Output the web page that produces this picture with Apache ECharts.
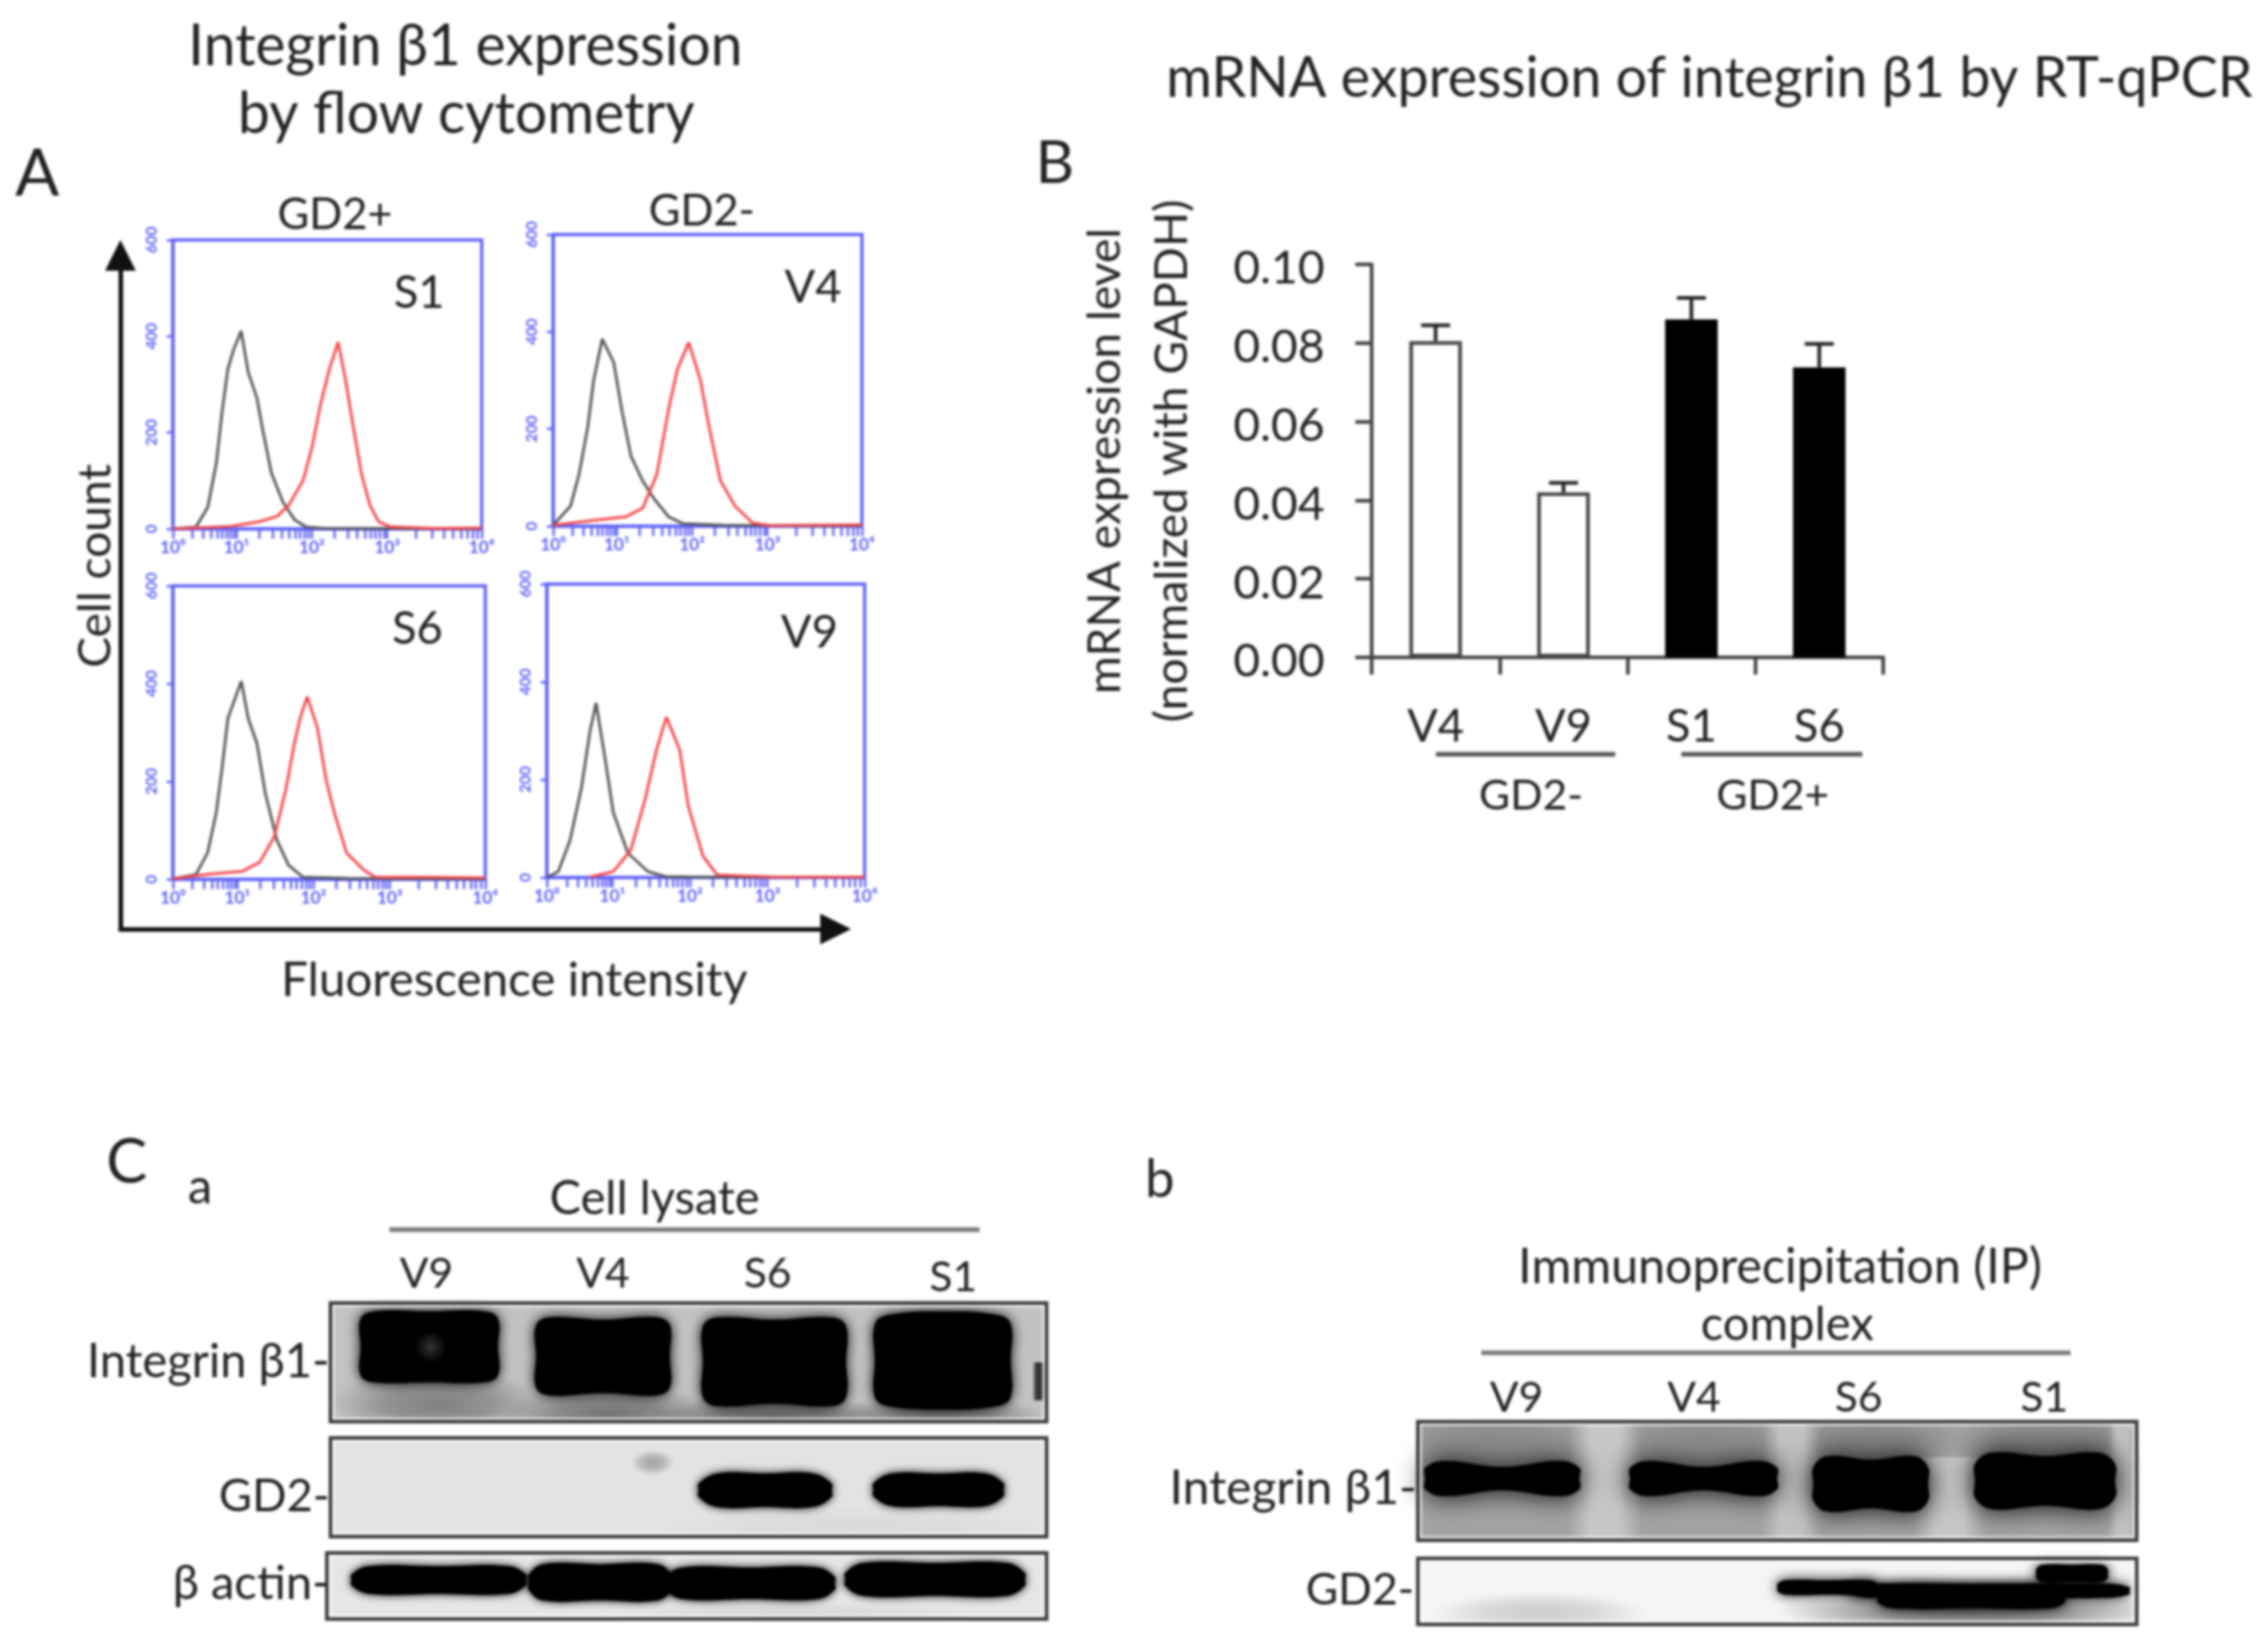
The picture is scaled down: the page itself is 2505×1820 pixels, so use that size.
<!DOCTYPE html>
<html><head><meta charset="utf-8">
<style>html,body{margin:0;padding:0;background:#fff}#c{width:2505px;height:1820px;filter:blur(1.5px)}</style>
<script src="https://cdn.jsdelivr.net/npm/echarts@6/dist/echarts.min.js"></script>
</head><body><div id="c"></div>
<script>
// ---------- Panel A: flow cytometry histograms ([channel, count]) ----------
const s1Control=[[0,0],[75,4],[113,45],[141,138],[159,242],[178,332],[197,373],[221,411],[244,325],[272,272],[291,205],[319,116],[356,56],[394,19],[431,4],[488,1],[1000,0]];
const s1Integrin=[[0,0],[188,5],[281,15],[338,26],[375,49],[422,101],[450,168],[478,258],[507,332],[535,388],[557,317],[582,220],[610,116],[638,49],[666,15],[704,4],[844,1],[1000,2]];
const v4Control=[[0,2],[56,41],[84,107],[112,204],[131,300],[159,385],[196,337],[224,233],[252,144],[290,93],[327,56],[374,19],[421,5],[551,2],[1000,1]];
const v4Integrin=[[0,2],[121,11],[234,19],[290,37],[336,107],[374,241],[402,322],[439,378],[477,300],[505,204],[542,93],[589,41],[645,7],[701,1],[1000,3]];
const s6Control=[[0,1],[74,10],[111,54],[139,137],[157,226],[176,329],[219,405],[241,329],[269,278],[296,175],[333,80],[370,29],[417,4],[556,2],[1000,1]];
const s6Integrin=[[0,1],[111,10],[222,16],[278,35],[324,86],[361,182],[389,278],[407,329],[430,373],[463,309],[491,201],[519,131],[556,54],[611,19],[648,4],[833,4],[1000,3]];
const v9Control=[[0,0],[36,12],[73,76],[109,184],[136,300],[155,357],[182,248],[209,133],[255,50],[318,12],[373,2],[455,1],[1000,0]];
const v9Integrin=[[136,1],[209,12],[264,56],[309,159],[345,261],[376,328],[418,261],[445,146],[491,44],[536,5],[718,1],[1000,1]];
const flowMajorChannels=[0,206,450,694,1000];
const flowTickLabels=['10⁰','10¹','10²','10³','10⁴'];
// ---------- Panel B: RT-qPCR ----------
const qpcrCategories=['V4','V9','S1','S6'];
const gd2NegativeValues=[0.0805,0.042,null,null];
const gd2PositiveValues=[null,null,0.086,0.0738];
const qpcrUpperError=[0.0845,0.0444,0.0915,0.0798];
// ---------- Panel C: blots [left%, right%, top%, bottom%, waist%, signal 0-1] ----------
const lysateIntegrinBg=[[0,100,0,100,0,.24],[0,30,55,115,0,.5],[24,54,68,120,0,.55],[46,78,76,120,0,.62],[70,100,76,120,0,.55],[98,99.8,50,82,0,.8]];
const lysateIntegrinBands=[[4.2,23.4,7,67,0,1],[28.7,47.4,12,78,2,1],[52,72,12,87,2,1],[76,95,10,87,-3,1],[6,22,24,50,0,.8]];
const lysateGd2Bg=[[0,100,0,100,0,.11],[46,100,70,115,0,.15],[42,48,12,38,0,.36]];
const lysateGd2Bands=[[51.4,70,36,70,0,1],[75.8,94,36,69,0,1]];
const lysateActinBg=[[0,100,0,100,0,.1],[40,90,75,115,0,.16]];
const lysateActinBands=[[3.4,27.7,20,62,0,1],[28,48,17,72,0,1],[47,70.6,22,70,0,1],[72,97,15,65,0,1]];
const ipIntegrinBg=[[0,100,0,100,0,.36],[-5,26,-10,42,0,.46],[26,54,-10,42,0,.46],[50,76,-10,42,0,.48],[74,102,-10,42,0,.48],[21,31,0,100,0,.22],[48,56,0,100,0,.24],[69,79,30,100,0,.22],[96,100,0,100,0,.24]];
const ipIntegrinBands=[[1,22.5,33,63,5,1],[29.5,50,33,63,5,1],[55,71,29,76,3,1],[77.5,97,26,74,3,1]];
const ipGd2Bg=[[0,100,0,100,0,.04],[2,32,50,115,0,.2],[50,104,45,115,0,.55]];
const ipGd2Bands=[[50,64,33,55,0,1],[60,99,38,60,0,1],[64,90,42,76,0,1],[86,96,10,36,0,1]];
const blotLaneLabels=['V9','V4','S6','S1'];
// ---------- Text ----------
const titleA=['Integrin β1 expression','by flow cytometry'];
const titleB='mRNA expression of integrin β1 by RT-qPCR';
const qpcrAxisName='mRNA expression level\n(normalized with GAPDH)';
const flowPanelNames=['S1','V4','S6','V9'];

const FONT='Lato, "Noto Sans", sans-serif';
const INK='#222';
const BLUE='#5d60f8';

function log10Ticks(){
  const out=[];
  for(let d=0;d<flowMajorChannels.length-1;d++){
    const a=flowMajorChannels[d],b=flowMajorChannels[d+1];
    for(let k=1;k<=9;k++) out.push(Math.round(a+(b-a)*Math.log10(k)));
  }
  out.push(1000);return out;
}
const grids=[],xAxes=[],yAxes=[],series=[],graphics=[];
function addGrid(g,x,y){grids.push(g);xAxes.push(Object.assign({gridIndex:grids.length-1},x));yAxes.push(Object.assign({gridIndex:grids.length-1},y));return grids.length-1;}

// outer arrows
const arrowAxis={type:'value',min:0,max:1,splitLine:{show:false},axisTick:{show:false},axisLabel:{show:false},
  axisLine:{show:true,symbol:['none','triangle'],symbolSize:[34,34],lineStyle:{color:'#111',width:5}}};
addGrid({left:133,top:282,width:790,height:744},arrowAxis,arrowAxis);

// flow panels
function flowPanel(box,control,integrin){
  const i=addGrid({left:box[0],top:box[1],width:box[2]-box[0],height:box[3]-box[1],show:true,borderColor:BLUE,borderWidth:3.5,backgroundColor:'#fff'},
   {type:'value',min:0,max:1000,splitLine:{show:false},axisLine:{show:true,onZero:false,lineStyle:{color:BLUE,width:3}},
    axisTick:{show:true,customValues:log10Ticks(),length:11,lineStyle:{color:BLUE,width:2.5}},
    axisLabel:{show:true,customValues:flowMajorChannels,formatter:v=>flowTickLabels[flowMajorChannels.indexOf(v)],color:BLUE,fontSize:19,fontWeight:'bold',margin:11,fontFamily:FONT,hideOverlap:false,showMinLabel:true,showMaxLabel:true}},
   {type:'value',min:0,max:600,interval:200,splitLine:{show:false},axisLine:{show:true,lineStyle:{color:BLUE,width:3.5}},
    axisTick:{show:true,length:7,lineStyle:{color:BLUE,width:2.5}},
    axisLabel:{show:true,rotate:90,color:BLUE,fontSize:17,fontWeight:'bold',margin:15,fontFamily:FONT,showMinLabel:true,showMaxLabel:true}});
  series.push({type:'line',xAxisIndex:i,yAxisIndex:i,data:control,symbol:'none',lineStyle:{color:'#555',width:3},silent:true,z:3});
  series.push({type:'line',xAxisIndex:i,yAxisIndex:i,data:integrin,symbol:'none',lineStyle:{color:'#f4474b',width:3},silent:true,z:4});
}
flowPanel([191,265,532,584],s1Control,s1Integrin);
flowPanel([611,259,952,581],v4Control,v4Integrin);
flowPanel([191,647,536,971],s6Control,s6Integrin);
flowPanel([604,645,955,969],v9Control,v9Integrin);

// bar chart
const qi=addGrid({left:1515,top:292,width:565,height:434},
  {type:'category',data:qpcrCategories,axisLine:{show:true,lineStyle:{color:'#444',width:4}},
   axisTick:{show:true,alignWithLabel:false,length:19,lineStyle:{color:'#444',width:4}},
   axisLabel:{color:INK,fontSize:50,margin:52,fontFamily:FONT}},
  {type:'value',min:0,max:0.1,interval:0.02,splitLine:{show:false},axisLine:{show:true,lineStyle:{color:'#444',width:4}},
   axisTick:{show:true,length:18,lineStyle:{color:'#444',width:4}},
   axisLabel:{color:INK,fontSize:51,margin:52,fontFamily:FONT,formatter:v=>v.toFixed(2),verticalAlign:'top',lineHeight:10},
   name:qpcrAxisName,nameLocation:'middle',nameRotate:90,nameGap:183,nameTextStyle:{color:INK,fontSize:51,lineHeight:74,fontFamily:FONT}});
const qBar={type:'bar',xAxisIndex:qi,yAxisIndex:qi,barWidth:58,barGap:'-100%',silent:true};
series.push(Object.assign({},qBar,{data:gd2NegativeValues,itemStyle:{color:'#fff',borderColor:'#444',borderWidth:4}}));
series.push(Object.assign({},qBar,{data:gd2PositiveValues,itemStyle:{color:'#000',borderColor:'#000',borderWidth:4}}));
const allValues=gd2NegativeValues.map((v,i)=>v==null?gd2PositiveValues[i]:v);
series.push({type:'custom',xAxisIndex:qi,yAxisIndex:qi,silent:true,z:1,
  data:qpcrCategories.map((c,i)=>[i,allValues[i],qpcrUpperError[i]]),
  renderItem(p,api){
    const lo=api.coord([api.value(0),api.value(1)]),hi=api.coord([api.value(0),api.value(2)]);
    const st={stroke:'#222',lineWidth:4,fill:'none'};
    return {type:'group',children:[
      {type:'line',shape:{x1:lo[0],y1:lo[1],x2:hi[0],y2:hi[1]},style:st},
      {type:'line',shape:{x1:hi[0]-16,y1:hi[1],x2:hi[0]+16,y2:hi[1]},style:st}]};
  }});

// blots
const gray=s=>{const g=Math.round(255*(1-s));return `rgb(${g},${g},${g})`;};
const grayA=(s,a)=>{const g=Math.round(255*(1-s));return `rgba(${g},${g},${g},${a})`;};
function softStrip(s){
  return new echarts.graphic.LinearGradient(0,0,1,0,[
    {offset:0,color:grayA(s,0)},{offset:.3,color:grayA(s,1)},{offset:.7,color:grayA(s,1)},{offset:1,color:grayA(s,0)}]);
}
function softBlob(s){
  return new echarts.graphic.RadialGradient(.5,.5,.5,[
    {offset:0,color:grayA(s,1)},{offset:.5,color:grayA(s,.7)},{offset:1,color:grayA(s,0)}]);
}
function blot(box,bg,bands,halo,cornerX,cornerY){
  const i=addGrid({left:box[0],top:box[1],width:box[2]-box[0],height:box[3]-box[1]},
    {type:'value',min:-10,max:110,show:false},{type:'value',min:-20,max:120,inverse:true,show:false});
  // axes are padded so panel percentages may spill past the frame; the frame is drawn at 0..100
  const base={type:'custom',xAxisIndex:i,yAxisIndex:i,silent:true,clip:false};
  grids[i]={left:box[0]-(box[2]-box[0])/10,top:box[1]-(box[3]-box[1])/5,width:(box[2]-box[0])*1.2,height:(box[3]-box[1])*1.4};
  series.push(Object.assign({},base,{z:5,data:bg,renderItem(p,api){
    const a=api.coord([api.value(0),api.value(2)]),b=api.coord([api.value(1),api.value(3)]);
    const w=b[0]-a[0],h=b[1]-a[1],s=api.value(5);
    const p0=api.coord([0,0]),p1=api.coord([100,100]);
    const clip={type:'rect',shape:{x:p0[0],y:p0[1],width:p1[0]-p0[0],height:p1[1]-p0[1]}};
    if(api.value(1)-api.value(0)===100&&api.value(3)-api.value(2)===100)
      return {type:'rect',shape:{x:a[0],y:a[1],width:w,height:h},style:{fill:gray(s)}};
    if(h>w) return {type:'rect',shape:{x:a[0],y:Math.max(a[1],p0[1]),width:w,height:Math.min(b[1],p1[1])-Math.max(a[1],p0[1])},style:{fill:softStrip(s)}};
    return {type:'group',clipPath:clip,children:[{type:'circle',x:a[0]+w/2,y:a[1]+h/2,scaleX:w/2,scaleY:h/2,shape:{cx:0,cy:0,r:1},style:{fill:softBlob(s)}}]};
  }}));
  series.push(Object.assign({},base,{z:6,data:bands,renderItem(p,api){
    const L=api.value(0),R=api.value(1),T=api.value(2),B=api.value(3),W=api.value(4),M=(L+R)/2,Y=(T+B)/2,r=(R-L)*cornerX,v=(B-T)*cornerY;
    const pts=[[L+r,T],[M,T+W],[R-r,T],[R,T+v],[R,Y],[R,B-v],[R-r,B],[M,B-W],[L+r,B],[L,B-v],[L,Y],[L,T+v]].map(q=>api.coord(q));
    const s=api.value(5);
    const fill=s<.99?new echarts.graphic.RadialGradient(.5,.5,.5,[{offset:0,color:gray(s)},{offset:1,color:'#000'}]):gray(s);
    return {type:'polygon',shape:{points:pts,smooth:.4},style:{fill,shadowBlur:s<.99?0:halo,shadowColor:'#000'}};
  }}));
  series.push(Object.assign({},base,{z:7,data:[[0]],renderItem(p,api){
    const a=api.coord([0,0]),b=api.coord([100,100]);
    return {type:'group',children:[
      {type:'rect',shape:{x:a[0]+3,y:a[1]+3,width:b[0]-a[0]-6,height:b[1]-a[1]-6},style:{fill:'none',stroke:'rgba(255,255,255,.7)',lineWidth:3}},
      {type:'rect',shape:{x:a[0],y:a[1],width:b[0]-a[0],height:b[1]-a[1]},style:{fill:'none',stroke:'#3c3c3c',lineWidth:4}}]};
  }}));
}
blot([365,1439,1156,1570],lysateIntegrinBg,lysateIntegrinBands,14,.1,.1);
blot([365,1588,1156,1697],lysateGd2Bg,lysateGd2Bands,10,.14,.3);
blot([361,1715,1156,1788],lysateActinBg,lysateActinBands,10,.1,.3);
blot([1566,1570,2360,1701],ipIntegrinBg,ipIntegrinBands,30,.12,.2);
blot([1566,1721,2360,1794],ipGd2Bg,ipGd2Bands,14,.08,.25);

// text + rules
function T(text,x,y,size,opt){graphics.push({type:'text',x,y,z:20,rotation:(opt&&opt.rot)||0,
  style:{text,font:`${size}px ${FONT}`,fill:INK,align:(opt&&opt.align)||'center',verticalAlign:'middle'}});}
function R(x1,x2,y,w,c){graphics.push({type:'line',z:20,shape:{x1,y1:y,x2,y2:y},style:{stroke:c||'#555',lineWidth:w||5}});}
T(titleA[0],514,52,63);T(titleA[1],515,127,63);
T('A',41,193,72);T('B',1165,181,66);
T(titleB,1888,87,61.5);
T('GD2+',370,238,48);T('GD2-',775,234,48);
T(flowPanelNames[0],463,324,50);T(flowPanelNames[1],898,318,50);T(flowPanelNames[2],461,695,50);T(flowPanelNames[3],894,699,50);
T('Cell count',106,625,51,{rot:Math.PI/2});
T('Fluorescence intensity',568,1083,52.5);
R(1586,1784,833);R(1857,2057,833);
T('GD2-',1691,879,47);T('GD2+',1958,879,47);
T('C',140,1284,68);T('a',221,1312,54);
T('Cell lysate',723,1324,52);R(430,1082,1358,5,'#777');
[471,666,848,1053].forEach((x,i)=>T(blotLaneLabels[i],x,i==3?1411:1407,47));
T('Integrin β1-',364,1504,52,{align:'right'});T('GD2-',364,1653,50,{align:'right'});T('β actin-',364,1749,52,{align:'right'});
T('b',1281,1303,58);
T('Immunoprecipitation (IP)',1966,1400,53.5);T('complex',1974,1463,52);R(1636,2287,1494,5,'#777');
[1675,1871,2053,2258].forEach((x,i)=>T(blotLaneLabels[i],x,1544,47));
T('Integrin β1-',1565,1644,53,{align:'right'});T('GD2-',1562,1756,49,{align:'right'});

const chart=echarts.init(document.getElementById('c'),null,{renderer:'canvas',width:2505,height:1820});
chart.setOption({animation:false,backgroundColor:'#fff',grid:grids,xAxis:xAxes,yAxis:yAxes,series,graphic:{elements:graphics}});
</script></body></html>
